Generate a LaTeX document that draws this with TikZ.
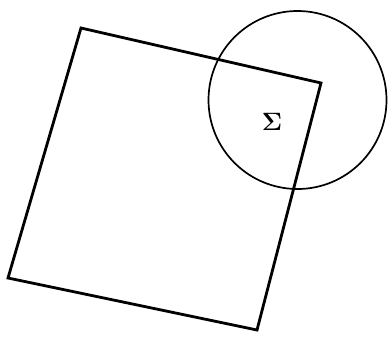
\documentclass[tikz,border=0pt]{standalone}
\usetikzlibrary{calc}
\tikzset{
  frame/.style={draw,line width=2.8pt,line join=miter},
  disc/.style={draw,circle,line width=1.7pt,minimum size=178pt,inner sep=0pt},
  lbl/.style={font=\LARGE,scale=1.45}
}
\begin{document}
\begin{tikzpicture}[x=1pt,y=-1pt]
\useasboundingbox (0,0) rectangle (388,340);
% rotated square
\coordinate (tl) at (81,28);
\coordinate (tr) at (321,83);
\coordinate (br) at (257,330);
\coordinate (bl) at (8,278);
\draw[frame] (tl) -- (tr) -- (br) -- (bl) -- cycle;
% circle with label
\node[disc] (ring) at (297.5,100) {};
\node[lbl] (sig) at (272,122) {$\mathbf{\Sigma}$};
\end{tikzpicture}
\end{document}
